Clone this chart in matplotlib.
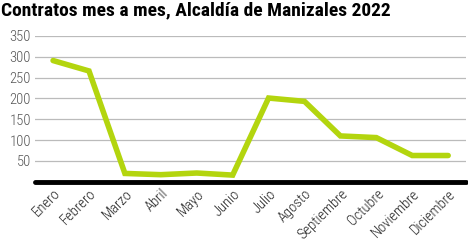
import matplotlib.pyplot as plt
from matplotlib import font_manager

meses = ['Enero', 'Febrero', 'Marzo', 'Abril', 'Mayo', 'Junio', 'Julio',
         'Agosto', 'Septiembre', 'Octubre', 'Noviembre', 'Diciembre']
contratos = [291, 266, 20, 17, 21, 16, 201, 193, 110, 106, 63, 63]
yticks = [50, 100, 150, 200, 250, 300, 350]

# buscar una fuente condensada instalada
pref = ['roboto condensed', 'liberation sans narrow', 'noto sans', 'open sans', 'dejavu sans']
def pick(target_w):
    best = None
    for f in font_manager.fontManager.ttflist:
        tag = (f.name + ' ' + f.fname).lower()
        narrow = 'condensed' in tag or 'narrow' in tag or 'condensed' in str(f.stretch)
        if not narrow or 'italic' in tag or f.style != 'normal':
            continue
        fam = next((i for i, p in enumerate(pref) if p in tag), len(pref))
        w = f.weight if isinstance(f.weight, int) else 400
        extra = 0 if 'extracondensed' in tag.replace(' ', '') or 'semicondensed' in tag.replace(' ', '') else -1
        key = (fam, extra, abs(w - target_w))
        if best is None or key < best[0]:
            best = (key, f.fname)
    return best[1] if best else None

f_reg = pick(300)
f_bold = pick(900)
lab = font_manager.FontProperties(fname=f_reg, size=10.5) if f_reg else font_manager.FontProperties(size=9.5)
tit = font_manager.FontProperties(fname=f_bold, size=14) if f_bold else font_manager.FontProperties(size=11, weight='bold')

fig = plt.figure(figsize=(4.68, 2.43), dpi=100)
ax = fig.add_axes([0.075, 0.252, 0.921, 0.6])

ax.plot(range(len(meses)), contratos, color='#b3d50e', lw=4, solid_capstyle='round',
        solid_joinstyle='miter', zorder=3)

ax.set_xlim(-0.5, 11.5)
ax.set_ylim(0, 350)
ax.set_yticks(yticks)
ax.set_yticklabels([str(v) for v in yticks], color='#555555', fontproperties=lab)
ax.set_xticks(range(len(meses)))
ax.set_xticklabels(meses, rotation=45, ha='right', rotation_mode='anchor',
                   color='#222222', fontproperties=lab)
ax.tick_params(axis='both', length=0, pad=3)
ax.tick_params(axis='x', pad=3.5)
ax.grid(axis='y', color='#bbbbbb', lw=0.9)
ax.set_axisbelow(True)
for s in ['top', 'right', 'left']:
    ax.spines[s].set_visible(False)
ax.spines['bottom'].set_linewidth(3.5)
ax.spines['bottom'].set_color('black')
ax.spines['bottom'].set_capstyle('round')

fig.text(0.003, 0.995, 'Contratos mes a mes, Alcaldía de Manizales 2022',
         fontproperties=tit, va='top', ha='left')

fig.savefig('out.png', dpi=100)
